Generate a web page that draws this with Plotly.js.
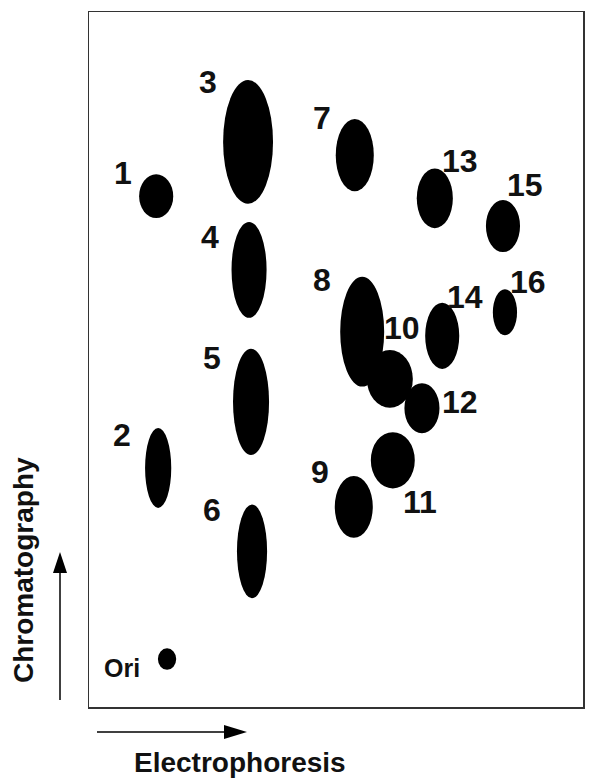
<!DOCTYPE html>
<html>
<head>
<meta charset="utf-8">
<script src="https://cdn.plot.ly/plotly-3.0.1.min.js"></script>
<style>html,body{margin:0;padding:0;background:#fff;}#chart{width:592px;height:779px;}</style>
</head>
<body>
<div id="chart"></div>
<script>
// Spot data (electrophoresis distance, chromatography distance, spot width, spot height) in arbitrary 0-100 units
var spotNames = ["Ori", "1", "2", "3", "4", "5", "6", "7", "8", "9", "10", "11", "12", "13", "14", "15", "16"];
var spotElectro = [15.8, 13.6, 14.0, 32.2, 32.4, 32.8, 33.0, 53.8, 55.3, 53.6, 60.9, 61.5, 67.4, 70.0, 71.5, 83.8, 84.2];
var spotChromato = [6.9, 73.5, 34.4, 81.3, 62.9, 43.9, 22.4, 79.4, 54.0, 28.8, 47.2, 35.5, 43.0, 73.2, 53.4, 69.2, 56.8];
var spotWidth = [3.7, 6.9, 5.3, 10.1, 7.1, 7.3, 6.1, 7.7, 8.9, 7.7, 9.3, 8.9, 7.1, 7.3, 6.9, 6.9, 4.9];
var spotHeight = [3.1, 6.3, 11.5, 17.8, 13.8, 15.3, 13.5, 10.4, 15.8, 8.9, 8.3, 8.1, 7.2, 8.6, 9.5, 7.5, 6.6];
var xAxisTitle = "Electrophoresis";
var yAxisTitle = "Chromatography";

// Label placement (pixel offsets from spot centre) — style only
var labelShiftX = [-45, -33, -36, -40, -39, -39, -40, -33, -40, -34, 12, 27, 38, 25, 23, 22, 23];
var labelShiftY = [-9, 23, 33, 60, 33, 44, 41, 37, 52, 35, 51, -42, 6, 37, 39, 41, 30];

var FONT = "Liberation Sans, Arial, Helvetica, sans-serif";
var shapes = [];
var annotations = [];
for (var i = 0; i < spotNames.length; i++) {
  shapes.push({
    type: "circle", xref: "x", yref: "y",
    x0: spotElectro[i] - spotWidth[i] / 2, x1: spotElectro[i] + spotWidth[i] / 2,
    y0: spotChromato[i] - spotHeight[i] / 2, y1: spotChromato[i] + spotHeight[i] / 2,
    fillcolor: "#000", line: {width: 0}
  });
  annotations.push({
    x: spotElectro[i], y: spotChromato[i], xref: "x", yref: "y",
    xanchor: "center", yanchor: "middle",
    text: spotNames[i], showarrow: false,
    xshift: labelShiftX[i], yshift: labelShiftY[i],
    font: {family: FONT, size: i === 0 ? 25 : 32, color: "#111", weight: "bold"}
  });
}

// paper-coordinate helpers for the decorative arrows (plot area: 89..583 px, 12..707 px)
function px(x) { return (x - 89) / 494; }
function py(y) { return (707 - y) / 695; }

// vertical arrow
shapes.push({type: "line", xref: "paper", yref: "paper", x0: px(60), x1: px(60), y0: py(700), y1: py(570), line: {color: "#000", width: 1.5}});
shapes.push({type: "path", xref: "paper", yref: "paper",
  path: "M " + px(60) + " " + py(552) + " L " + px(53) + " " + py(573) + " L " + px(67) + " " + py(573) + " Z",
  fillcolor: "#000", line: {width: 0}});
// horizontal arrow
shapes.push({type: "line", xref: "paper", yref: "paper", x0: px(97), x1: px(226), y0: py(732), y1: py(732), line: {color: "#000", width: 1.5}});
shapes.push({type: "path", xref: "paper", yref: "paper",
  path: "M " + px(247) + " " + py(732) + " L " + px(224) + " " + py(725) + " L " + px(224) + " " + py(739) + " Z",
  fillcolor: "#000", line: {width: 0}});

annotations.push({xref: "paper", yref: "paper", x: px(240), y: py(762), xanchor: "center", yanchor: "middle",
  text: xAxisTitle, showarrow: false,
  font: {family: FONT, size: 28, color: "#111", weight: "bold"}});
annotations.push({xref: "paper", yref: "paper", x: px(23), y: py(570), xanchor: "center", yanchor: "middle",
  text: yAxisTitle, showarrow: false, textangle: -90,
  font: {family: FONT, size: 28, color: "#111", weight: "bold"}});

var layout = {
  width: 592, height: 779,
  margin: {l: 89, r: 9, t: 12, b: 72},
  paper_bgcolor: "#fff", plot_bgcolor: "#fff",
  showlegend: false,
  xaxis: {range: [0, 100], showgrid: false, zeroline: false, showticklabels: false, ticks: "",
    showline: true, mirror: true, linecolor: "#333", linewidth: 1.5, fixedrange: true},
  yaxis: {range: [0, 100], showgrid: false, zeroline: false, showticklabels: false, ticks: "",
    showline: true, mirror: true, linecolor: "#333", linewidth: 1.5, fixedrange: true},
  shapes: shapes,
  annotations: annotations
};

Plotly.newPlot("chart", [{x: [], y: [], type: "scatter", mode: "markers", hoverinfo: "skip"}], layout, {staticPlot: true, displayModeBar: false});
</script>
</body>
</html>
